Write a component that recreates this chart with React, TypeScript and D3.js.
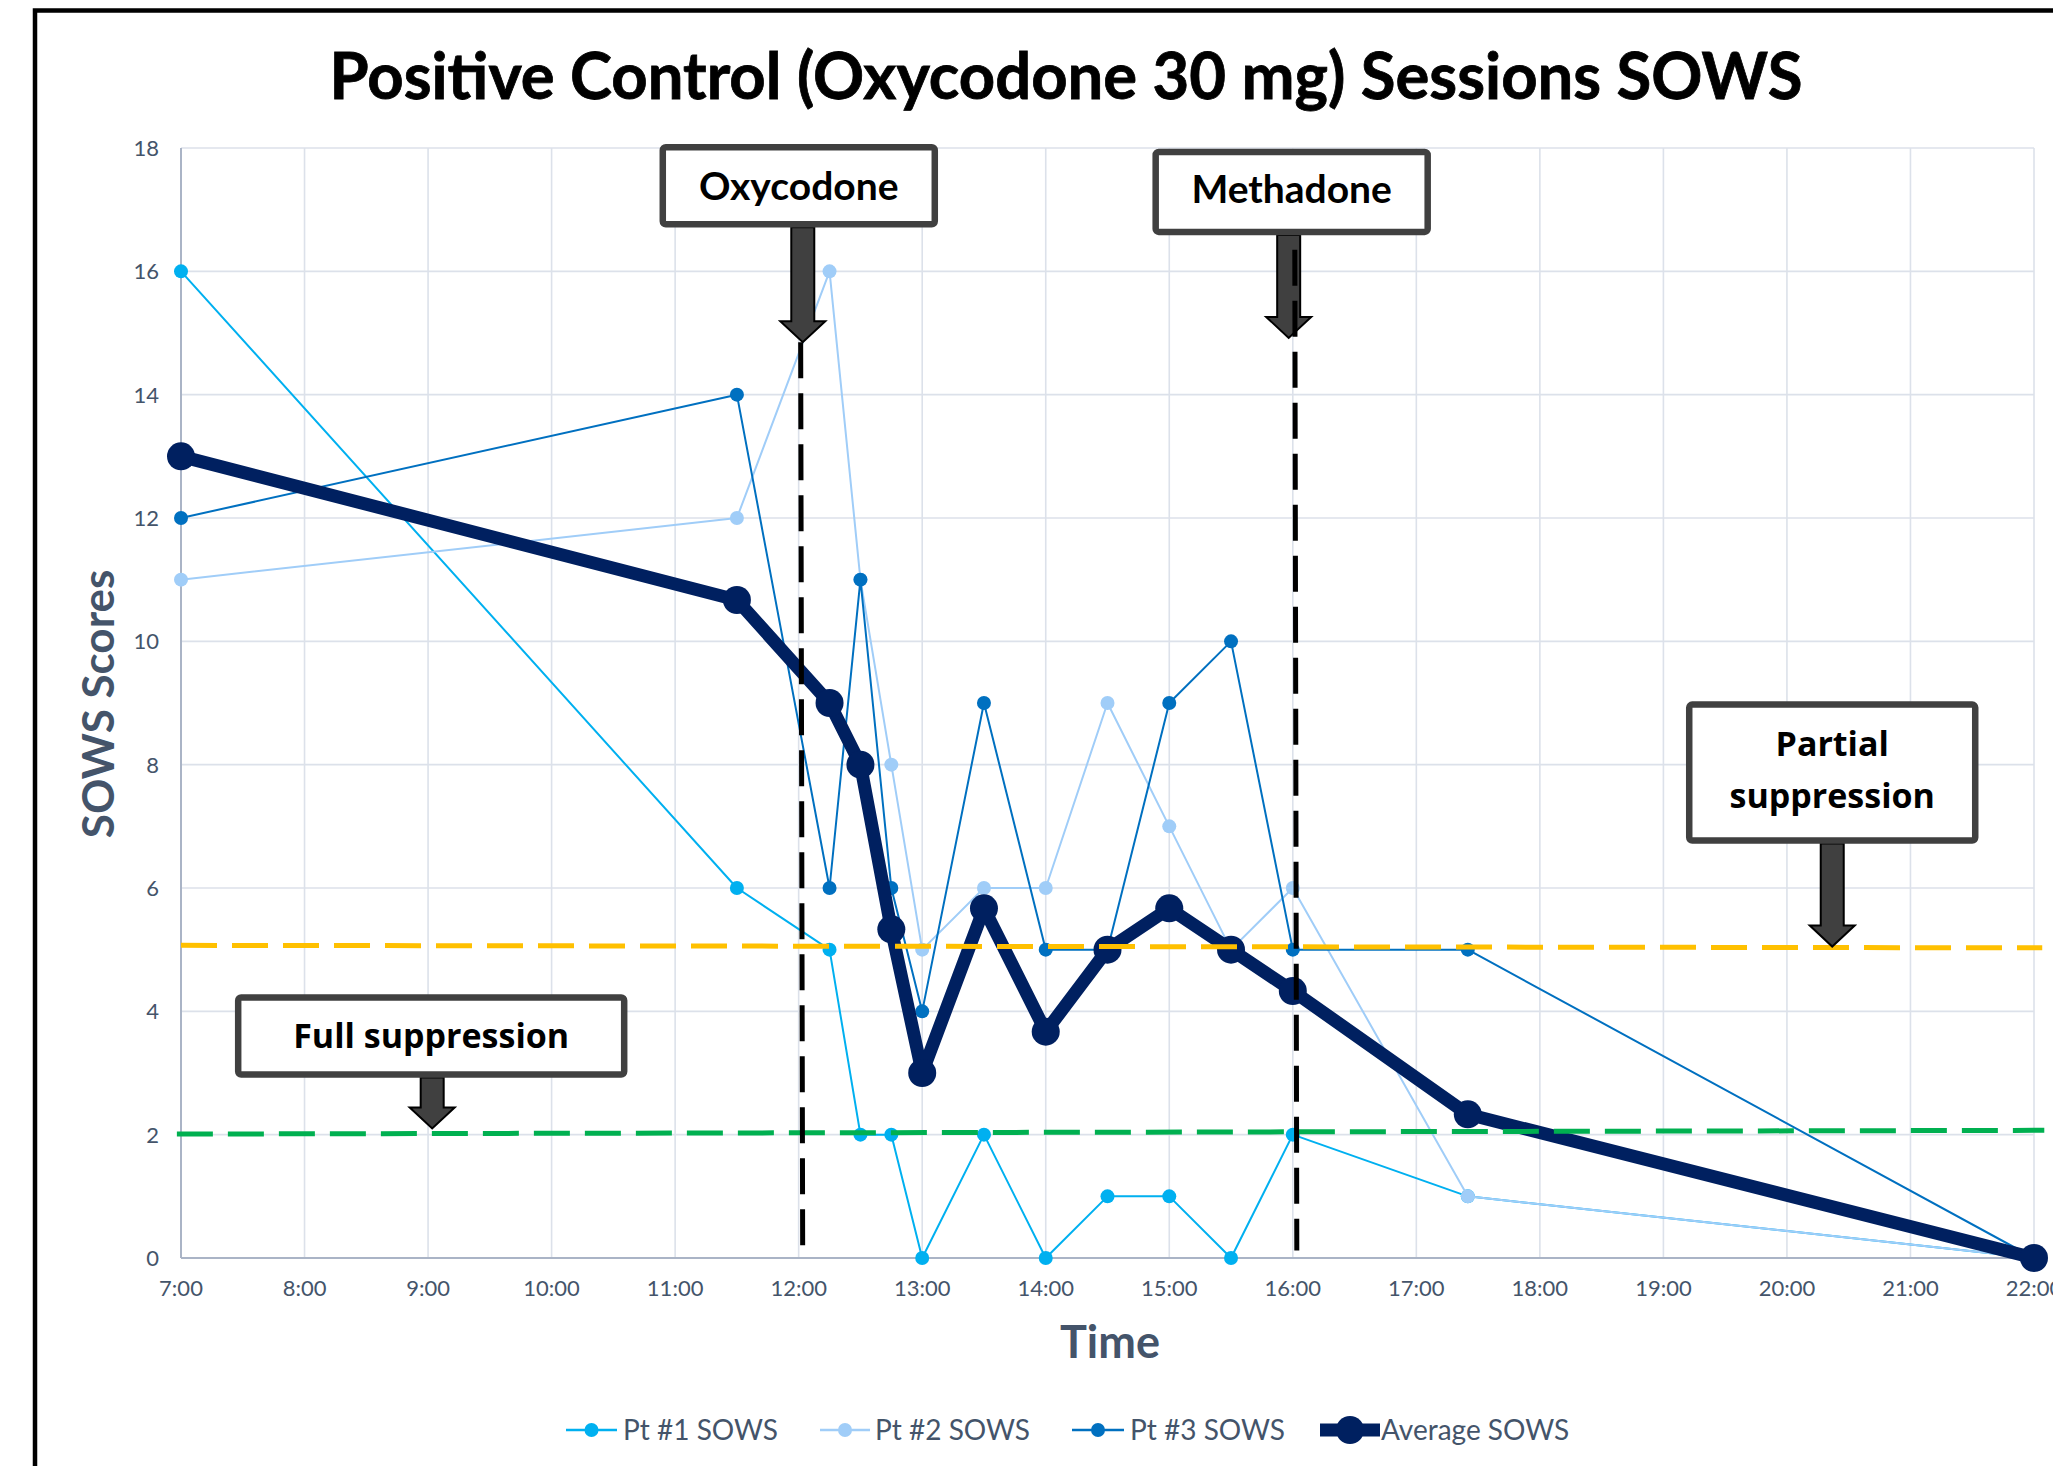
import React from "react";
import * as d3 from "d3";

// ---------- data ----------
const times = ["7:00", "11:30", "12:15", "12:30", "12:45", "13:00", "13:30", "14:00", "14:30", "15:00", "15:30", "16:00", "17:25", "22:00"];
const pt1 = [16, 6, 5, 2, 2, 0, 2, 0, 1, 1, 0, 2, 1, 0];
const pt2 = [11, 12, 16, 11, 8, 5, 6, 6, 9, 7, 5, 6, 1, 0];
const pt3 = [12, 14, 6, 11, 6, 4, 9, 5, 5, 9, 10, 5, 5, 0];
const avg = [13, 10.67, 9, 8, 5.33, 3, 5.67, 3.67, 5, 5.67, 5, 4.33, 2.33, 0];

const seriesNames = ["Pt #1 SOWS", "Pt #2 SOWS", "Pt #3 SOWS", "Average SOWS"];
const hourTicks = ["7:00", "8:00", "9:00", "10:00", "11:00", "12:00", "13:00", "14:00", "15:00", "16:00", "17:00", "18:00", "19:00", "20:00", "21:00", "22:00"];
const yTicks = [0, 2, 4, 6, 8, 10, 12, 14, 16, 18];

// suppression threshold lines (value at left end, value at right end)
const partialLine = [5.07, 5.03];
const fullLine = [2.01, 2.07];
// dosing times (vertical dashed lines) and the score where each line starts
const doseTimes = ["12:00", "16:00"];
const doseTops = [14.85, 16.35];

// annotation callouts: label, arrow-tip time, arrow-tip score
const calloutLabels = [["Oxycodone"], ["Methadone"], ["Partial", "suppression"], ["Full suppression"]];
const calloutTimes = ["12:02", "15:58", "20:22", "9:02"];
const calloutValues = [14.85, 14.92, 5.05, 2.1];

// ---------- styling ----------
const W = 2053, H = 1466;
const colors = ["#00B0F0", "#A0CDF8", "#0070C0", "#002060"];
const slate = "#44546A";
const calloutStyle = [
  { w: 272, h: 77, len: 118, dx: -4, font: "Lato", size: 39, ty: 0 },
  { w: 272, h: 80, len: 106, dx: 3, font: "Lato", size: 39, ty: -3 },
  { w: 286, h: 136, len: 106, dx: 0, font: "Open Sans", size: 34, ty: -3 },
  { w: 386, h: 77, len: 54, dx: -1, font: "Open Sans", size: 34, ty: 0 },
];
const legendPos = [
  { x1: 566, x2: 617, tx: 623 },
  { x1: 820, x2: 870, tx: 875 },
  { x1: 1072, x2: 1124, tx: 1130 },
  { x1: 1320, x2: 1380, tx: 1381 },
];

const toDate = (s: string) => {
  const [h, m] = s.split(":").map(Number);
  return new Date(2020, 0, 1, h, m);
};

export default function App() {
  const x = d3.scaleTime().domain([toDate("7:00"), toDate("22:00")]).range([181, 2034]);
  const y = d3.scaleLinear().domain([0, 18]).range([1258, 148]);
  const dates = times.map(toDate);
  const all = [pt1, pt2, pt3, avg];

  const line = d3
    .line<number>()
    .x((_, i) => x(dates[i]))
    .y((d) => y(d));

  const x0 = x(toDate("7:00"));
  const x1 = x(toDate("22:00"));

  const arrowPath = (cx: number, top: number, tip: number) => {
    const sw = 11.5, hw = 22.5, hl = 21;
    const hs = tip - hl;
    return `M${cx - sw},${top}L${cx + sw},${top}L${cx + sw},${hs}L${cx + hw},${hs}L${cx},${tip}L${cx - hw},${hs}L${cx - sw},${hs}Z`;
  };

  return (
    <div style={{ position: "absolute", left: 0, top: 0, width: W, height: H, overflow: "hidden", background: "#fff" }}>
      <svg width={W} height={H} style={{ display: "block" }}>
        <rect x={0} y={0} width={W} height={H} fill="#fff" />
        {/* outer border */}
        <rect x={35} y={10.5} width={W + 50} height={H + 50} fill="none" stroke="#000" strokeWidth={4.5} />

        {/* title */}
        <text x={1066} y={99} textAnchor="middle" fontFamily="Lato" fontWeight={700} fontSize={65} fill="#000" stroke="#000" strokeWidth={0.8} textLength={1473} lengthAdjust="spacingAndGlyphs">
          Positive Control (Oxycodone 30 mg) Sessions SOWS
        </text>

        {/* grid */}
        {yTicks.map((t) => (
          <line key={"gy" + t} x1={x0} x2={x1} y1={y(t)} y2={y(t)} stroke="#DCE1EA" strokeWidth={1.6} />
        ))}
        {hourTicks.map((t) => (
          <line key={"gx" + t} x1={x(toDate(t))} x2={x(toDate(t))} y1={y(18)} y2={y(0)} stroke="#DCE1EA" strokeWidth={1.6} />
        ))}
        {/* axes */}
        <line x1={x0} x2={x0} y1={y(18)} y2={y(0)} stroke="#AAB4C6" strokeWidth={2} />
        <line x1={x0} x2={x1} y1={y(0)} y2={y(0)} stroke="#AAB4C6" strokeWidth={2} />

        {/* tick labels */}
        {yTicks.map((t) => (
          <text key={"ty" + t} x={159} y={y(t)} dy="0.36em" textAnchor="end" fontFamily="Lato" fontSize={22} fill={slate}>
            {t}
          </text>
        ))}
        {hourTicks.map((t) => (
          <text key={"tx" + t} x={x(toDate(t))} y={1296} textAnchor="middle" fontFamily="Lato" fontSize={22} fill={slate}>
            {t}
          </text>
        ))}

        {/* axis titles */}
        <text x={1110} y={1358} textAnchor="middle" fontFamily="Lato" fontWeight={700} fontSize={45} fill={slate}>
          Time
        </text>
        <text transform="translate(114,704) rotate(-90)" textAnchor="middle" fontFamily="Lato" fontWeight={700} fontSize={44} fill={slate}>
          SOWS Scores
        </text>

        {/* series */}
        {all.map((s, k) => (
          <g key={"s" + k}>
            <path d={line(s) || ""} fill="none" stroke={colors[k]} strokeWidth={k === 3 ? 13 : 2} strokeLinejoin="round" />
            {s.map((v, i) => (
              <circle key={i} cx={x(dates[i])} cy={y(v)} r={k === 3 ? 14 : 7} fill={colors[k]} />
            ))}
          </g>
        ))}

        {/* threshold lines */}
        <line x1={x0} x2={x(toDate("22:04"))} y1={y(partialLine[0])} y2={y(partialLine[1])} stroke="#FFC000" strokeWidth={5} strokeDasharray="36 15" />
        <line x1={x(toDate("6:58"))} x2={x(toDate("22:05"))} y1={y(fullLine[0])} y2={y(fullLine[1])} stroke="#00B050" strokeWidth={5} strokeDasharray="36 15" />

        {/* callouts */}
        {calloutLabels.map((lines, i) => {
          const st = calloutStyle[i];
          const tx = x(toDate(calloutTimes[i]));
          const ty = y(calloutValues[i]);
          const boxBottom = ty - st.len;
          const cx = tx + st.dx;
          const lh = 52;
          return (
            <g key={"c" + i}>
              <path d={arrowPath(tx, boxBottom + 3, ty)} fill="#404040" stroke="#000" strokeWidth={2} strokeLinejoin="miter" />
              <rect x={cx - st.w / 2} y={boxBottom - st.h} width={st.w} height={st.h} rx={3} fill="#fff" stroke="#404040" strokeWidth={6.5} />
              {lines.map((l, j) => (
                <text
                  key={j}
                  x={cx}
                  y={boxBottom - st.h / 2 + st.ty + (j - (lines.length - 1) / 2) * lh}
                  dy="0.36em"
                  textAnchor="middle"
                  fontFamily={st.font}
                  fontWeight={700}
                  fontSize={st.size}
                  fill="#000"
                >
                  {l}
                </text>
              ))}
            </g>
          );
        })}

        {/* dose lines (drawn over the arrows) */}
        {doseTimes.map((t, i) => (
          <line key={"d" + t} x1={x(toDate(t)) + 2} x2={x(toDate(t)) + 4} y1={y(doseTops[i])} y2={y(0.12)} stroke="#000" strokeWidth={5} strokeDasharray="36 15" />
        ))}

        {/* legend */}
        {seriesNames.map((n, k) => {
          const p = legendPos[k];
          const ly = 1430;
          return (
            <g key={"l" + k}>
              <line x1={p.x1} x2={p.x2} y1={ly} y2={ly} stroke={colors[k]} strokeWidth={k === 3 ? 13 : 2.5} />
              <circle cx={(p.x1 + p.x2) / 2} cy={ly} r={k === 3 ? 14 : 7} fill={colors[k]} />
              <text x={p.tx} y={ly} dy="0.36em" fontFamily="Lato" fontSize={28} fill={slate}>
                {n}
              </text>
            </g>
          );
        })}
      </svg>
    </div>
  );
}
